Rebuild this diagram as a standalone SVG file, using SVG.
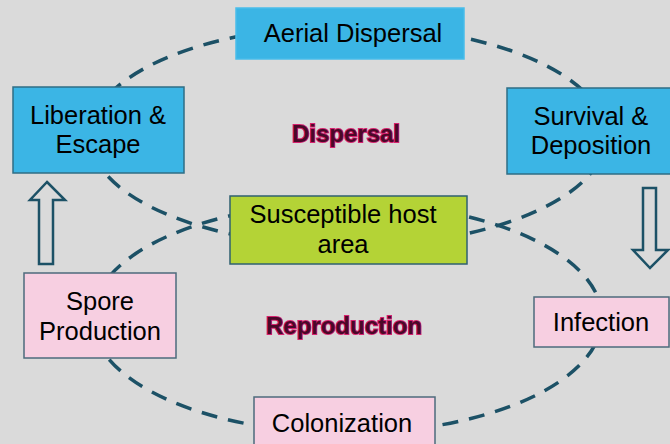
<svg xmlns="http://www.w3.org/2000/svg" width="670" height="444" viewBox="0 0 670 444">
  <defs>
    <style>
      .bg { fill: #dadada; }
      .loop { fill: none; stroke: #1c5166; stroke-width: 3.5; stroke-dasharray: 16 11; }
      .blk { fill: #dadada; stroke: #1c5166; stroke-width: 2.5; stroke-linejoin: miter; }
      .blue { fill: #3bb5e5; stroke: #2f6e85; stroke-width: 1.5; }
      .blue2 { fill: #3bb5e5; stroke: #49bdea; stroke-width: 1.5; }
      .green { fill: #b4d336; stroke: #2f6070; stroke-width: 1.5; }
      .pink { fill: #f7cfe1; stroke: #4d6b7c; stroke-width: 1.5; }
      .lbl { font-family: "Liberation Sans", Arial, sans-serif; font-size: 25.5px; fill: #000; text-anchor: middle; }
      .phase { font-family: "Liberation Sans", Arial, sans-serif; font-size: 24px; font-weight: bold; text-anchor: middle; }
      .glow { fill: #d6246f; stroke: #d6246f; stroke-width: 2; filter: url(#soft); }
      .core { fill: #4a0828; }
    </style>
    <filter id="soft" x="-10%" y="-30%" width="120%" height="160%">
      <feGaussianBlur stdDeviation="0.6"/>
    </filter>
  </defs>
  <rect class="bg" x="0" y="0" width="670" height="444"/>

  <g id="connectors">
    <ellipse class="loop" cx="348" cy="136" rx="258" ry="110"/>
    <ellipse class="loop" cx="347" cy="318" rx="255" ry="115"/>
    <polygon class="blk" points="47,182 65,200 53,200 53,264 39,264 39,200 30,200"/>
    <polygon class="blk" points="643,188 656,188 656,250 668,250 650,268 633,250 643,250"/>
  </g>

  <g id="label-dispersal">
    <text class="phase glow" x="346" y="142">Dispersal</text>
    <text class="phase core" x="346" y="142">Dispersal</text>
  </g>
  <g id="label-reproduction">
    <text class="phase glow" x="344" y="334">Reproduction</text>
    <text class="phase core" x="344" y="334">Reproduction</text>
  </g>

  <g id="aerial-dispersal">
    <rect class="blue2" x="236" y="8" width="228" height="51"/>
    <text class="lbl" x="353" y="42">Aerial Dispersal</text>
  </g>
  <g id="liberation-escape">
    <rect class="blue" x="13" y="87" width="171" height="86"/>
    <text class="lbl" x="98" y="124">Liberation &amp;</text>
    <text class="lbl" x="98" y="153">Escape</text>
  </g>
  <g id="survival-deposition">
    <rect class="blue" x="507" y="88" width="166" height="86"/>
    <text class="lbl" x="591" y="125">Survival &amp;</text>
    <text class="lbl" x="591" y="154">Deposition</text>
  </g>
  <g id="susceptible-host">
    <rect class="green" x="230" y="196" width="237" height="68"/>
    <text class="lbl" x="343" y="223">Susceptible host</text>
    <text class="lbl" x="343" y="253">area</text>
  </g>
  <g id="spore-production">
    <rect class="pink" x="24" y="273" width="152" height="85"/>
    <text class="lbl" x="100" y="310">Spore</text>
    <text class="lbl" x="100" y="340">Production</text>
  </g>
  <g id="infection">
    <rect class="pink" x="534" y="297" width="135" height="50"/>
    <text class="lbl" x="601" y="331">Infection</text>
  </g>
  <g id="colonization">
    <rect class="pink" x="254" y="397" width="181" height="50"/>
    <text class="lbl" x="342" y="432">Colonization</text>
  </g>
</svg>
